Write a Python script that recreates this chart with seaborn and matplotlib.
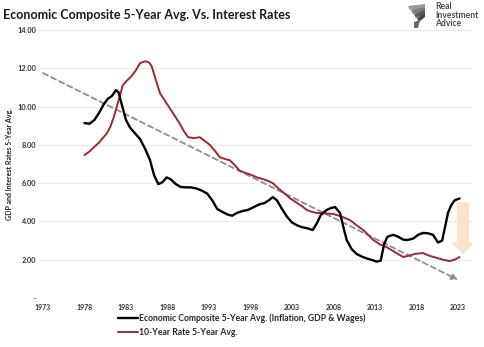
import numpy as np
import pandas as pd
import matplotlib
matplotlib.use("Agg")
import matplotlib.pyplot as plt
from matplotlib.patches import Polygon
import seaborn as sns

# ---- data ----
econ_years = [1978.0, 1978.6, 1979.2, 1979.8, 1980.3, 1980.8, 1981.3, 1981.8, 1982.1, 1982.5,
              1983.0, 1983.5, 1984.1, 1984.7, 1985.3, 1985.9, 1986.4, 1986.9, 1987.4, 1987.9,
              1988.4, 1989.0, 1989.6, 1990.2, 1990.8, 1991.5, 1992.2, 1992.8, 1993.4, 1994.0,
              1994.6, 1995.3, 1995.8, 1996.4, 1997.1, 1997.7, 1998.4, 1999.1, 1999.7, 2000.2,
              2000.7, 2001.2, 2001.8, 2002.4, 2003.0, 2003.6, 2004.2, 2004.8, 2005.5, 2006.0,
              2006.5, 2007.2, 2007.7, 2008.2, 2008.8, 2009.2, 2009.6, 2010.2, 2010.8, 2011.5,
              2012.2, 2012.7, 2013.2, 2013.7, 2014.1, 2014.5, 2015.2, 2015.8, 2016.4, 2016.9,
              2017.6, 2018.2, 2018.8, 2019.4, 2020.0, 2020.6, 2021.1, 2021.5, 2021.8, 2022.2,
              2022.6, 2023.2]
econ_values = [9.14, 9.10, 9.30, 9.70, 10.10, 10.40, 10.55, 10.86, 10.75, 10.10,
               9.30, 8.90, 8.60, 8.30, 7.80, 7.20, 6.40, 5.95, 6.05, 6.30,
               6.20, 5.95, 5.80, 5.78, 5.78, 5.72, 5.60, 5.45, 5.10, 4.65,
               4.50, 4.35, 4.30, 4.45, 4.55, 4.60, 4.75, 4.90, 4.96, 5.10,
               5.27, 5.10, 4.65, 4.25, 3.95, 3.80, 3.70, 3.65, 3.55, 3.90,
               4.35, 4.60, 4.70, 4.75, 4.44, 3.70, 3.03, 2.55, 2.30, 2.15,
               2.04, 1.98, 1.90, 1.95, 2.80, 3.20, 3.30, 3.20, 3.05, 3.03,
               3.10, 3.30, 3.40, 3.38, 3.30, 2.90, 3.00, 3.80, 4.44, 4.85,
               5.10, 5.20]

rate_years = [1978.0, 1978.6, 1979.2, 1979.7, 1980.2, 1980.7, 1981.1, 1981.5, 1981.9, 1982.3,
              1982.6, 1983.1, 1983.7, 1984.2, 1984.7, 1985.3, 1985.8, 1986.1, 1986.6, 1987.1,
              1987.7, 1988.3, 1988.9, 1989.5, 1990.0, 1990.5, 1991.2, 1991.9, 1992.5, 1993.1,
              1993.7, 1994.3, 1995.0, 1995.5, 1996.1, 1996.7, 1997.3, 1998.0, 1998.8, 1999.6,
              2000.2, 2000.7, 2001.3, 2002.0, 2002.8, 2003.5, 2004.2, 2004.8, 2005.4, 2006.0,
              2007.0, 2008.0, 2009.0, 2010.0, 2010.8, 2011.6, 2012.2, 2012.8, 2013.6, 2014.4,
              2015.4, 2016.4, 2017.0, 2017.8, 2018.8, 2019.6, 2020.5, 2021.2, 2022.0, 2022.6,
              2023.2]
rate_values = [7.47, 7.65, 7.90, 8.10, 8.35, 8.60, 8.93, 9.40, 10.00, 10.60,
               11.10, 11.35, 11.60, 11.90, 12.27, 12.37, 12.30, 12.10, 11.40, 10.70,
               10.30, 9.90, 9.50, 9.10, 8.70, 8.40, 8.35, 8.40, 8.20, 8.00,
               7.70, 7.36, 7.25, 7.20, 6.95, 6.65, 6.55, 6.45, 6.30, 6.20,
               6.10, 6.00, 5.75, 5.50, 5.20, 5.00, 4.80, 4.60, 4.50, 4.44,
               4.42, 4.39, 4.25, 4.07, 3.80, 3.55, 3.30, 3.03, 2.80, 2.66,
               2.40, 2.14, 2.20, 2.30, 2.35, 2.20, 2.09, 2.00, 1.93, 2.00,
               2.14]

trend_years = [1973, 2023]
trend_values = [11.75, 0.95]

arrow_year = 2023.6
arrow_from = 5.0
arrow_to = 2.3

xtick_years = [1973, 1978, 1983, 1988, 1993, 1998, 2003, 2008, 2013, 2018, 2023]
ytick_values = [0, 2, 4, 6, 8, 10, 12, 14]

econ_label = "Economic Composite 5-Year Avg. (Inflation, GDP & Wages)"
rate_label = "10-Year Rate 5-Year Avg."
title = "Economic Composite 5-Year Avg. Vs. Interest Rates"
ylabel = "GDP and Interest Rates 5-Year Avg."

# ---- plotting ----
sns.set_theme(style="white")
plt.rcParams['font.family'] = ['Lato', 'DejaVu Sans']

W, H = 485, 347
fig = plt.figure(figsize=(W / 100, H / 100), dpi=100)
ax = fig.add_axes([38 / W, 49 / H, 434 / W, 268 / H])

df_e = pd.DataFrame({"year": econ_years, "value": econ_values})
df_r = pd.DataFrame({"year": rate_years, "value": rate_values})

for v in ytick_values:
    ax.axhline(v, color="#ececec", lw=0.8, zorder=0)

ax.annotate("", xy=(trend_years[1], trend_values[1]), xytext=(trend_years[0], trend_values[0]),
            arrowprops=dict(arrowstyle="-|>", color="#8a8f96", lw=1.3, ls=(0, (3, 2)),
                            mutation_scale=9, shrinkA=0, shrinkB=0), zorder=2)

ax.arrow(arrow_year, arrow_from, 0, arrow_to - arrow_from, width=1.45, head_width=2.9,
         head_length=0.6, length_includes_head=True, color="#fbe2cc", lw=0, zorder=1)

sns.lineplot(data=df_r, x="year", y="value", ax=ax, color="#a0282e", lw=1.4,
             label=rate_label, zorder=3, legend=False)
sns.lineplot(data=df_e, x="year", y="value", ax=ax, color="#000000", lw=1.7,
             label=econ_label, zorder=4, legend=False)

ax.set_xlim(1972.4, 2024.7)
ax.set_ylim(0, 14)
ax.set_xticks(xtick_years)
ax.set_xticklabels([str(y) for y in xtick_years], fontsize=5, fontweight="bold", color="#333333")
ax.set_yticks(ytick_values)
ax.set_yticklabels(["-" if v == 0 else f"{v:.2f}" for v in ytick_values],
                   fontsize=5.3, fontweight="bold", color="#333333")
ax.tick_params(axis="x", length=0, pad=4)
ax.tick_params(axis="y", length=0, pad=1)
ax.set_xlabel("")
ax.set_ylabel(ylabel, fontsize=5, fontweight="bold", color="#222222")
ax.yaxis.set_label_coords(-25 / 434, 0.5)
for s in ax.spines.values():
    s.set_visible(False)

handles, labels = ax.get_legend_handles_labels()
order = [labels.index(econ_label), labels.index(rate_label)]
fig.legend([handles[i] for i in order], [labels[i] for i in order],
           loc="upper left", bbox_to_anchor=(118 / W, 1 - 313 / H), frameon=False,
           handlelength=2.3, handletextpad=0.15, labelspacing=0.6,
           borderaxespad=0, borderpad=0, prop={"weight": "bold", "size": 6.2})

fig.text(3 / W, 1 - 15 / H, title, fontsize=9.0, fontweight="bold", color="#1a1a1a",
         va="center", ha="left")

# logo
fig.text(435 / W, 1 - 15 / H, "Real\nInvestment\nAdvice", fontsize=6.2, fontweight="bold",
         color="#4a4a4a", va="center", ha="left", linespacing=0.95)
for i, c in enumerate(["#9a9a9a", "#7a7a7a", "#5a5a5a", "#444444"]):
    pts = [(408 + i * 3, 6 + i * 4), (425, 4 + i * 3), (425, 8 + i * 3), (410 + i * 3, 10 + i * 4)]
    fig.patches.append(Polygon([(x / W, 1 - y / H) for x, y in pts], closed=True,
                               transform=fig.transFigure, color=c, lw=0))
fig.patches.append(Polygon([(x / W, 1 - y / H) for x, y in [(414, 22), (420, 20), (418, 28), (414, 28)]],
                           closed=True, transform=fig.transFigure, color="#666666", lw=0))

fig.savefig("out.png", dpi=100, facecolor="white")
